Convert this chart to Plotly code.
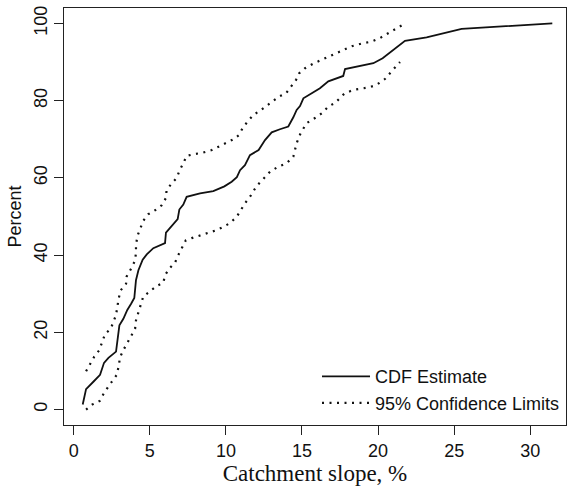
import plotly.graph_objects as go

# CDF estimate (catchment slope %, percent)
cdf_x = [0.59, 0.81, 1.29, 1.73, 1.99, 2.28, 2.78, 3.0, 3.26, 3.52, 3.77, 3.98, 4.09, 4.25, 4.53, 4.8,
         5.23, 6.0, 6.06, 6.44, 6.83, 6.94, 7.2, 7.42, 8.3, 9.17, 9.9, 10.38, 10.72, 10.93, 11.25, 11.58,
         12.15, 12.57, 13.01, 13.55, 14.1, 14.43, 14.65, 14.87, 15.09, 15.64, 16.18, 16.73, 17.71, 17.83,
         18.81, 19.69, 20.3, 21.0, 21.77, 23.19, 24.18, 25.49, 31.45]
cdf_y = [1.3, 5.3, 7.2, 9.0, 12.1, 13.4, 15.0, 21.8, 23.5, 25.8, 27.4, 28.9, 33.5, 36.1, 38.8, 40.2,
         41.8, 43.1, 45.8, 47.5, 49.3, 51.8, 53.1, 55.1, 56.0, 56.6, 57.8, 59.0, 60.2, 62.0, 63.3, 65.9,
         67.2, 69.8, 71.8, 72.6, 73.3, 75.7, 77.6, 78.6, 80.6, 81.9, 83.2, 85.0, 86.4, 88.2,
         88.9, 89.7, 91.0, 93.2, 95.5, 96.4, 97.3, 98.6, 100.0]

# Upper 95% confidence limit
upper_x = [0.81, 1.07, 1.35, 1.68, 2.06, 2.43, 2.78, 2.96, 3.09, 3.44, 3.48, 3.77, 4.03, 4.09, 4.09, 4.18,
           4.4, 4.57, 4.9, 5.34, 5.78, 6.06, 6.1, 6.44, 6.77, 6.94, 7.2, 7.42, 7.97, 8.45, 9.07, 9.55,
           10.05, 10.49, 10.86, 11.1, 11.43, 11.8, 12.24, 12.68, 13.11, 13.51, 13.95, 14.26, 14.61, 14.82,
           15.2, 15.74, 16.29, 16.73, 17.17, 17.71, 18.27, 19.03, 19.57, 20.12, 20.67, 21.11, 21.55]
upper_y = [9.9, 11.8, 13.7, 15.4, 19.6, 20.9, 24.5, 28.9, 30.9, 32.6, 34.5, 36.5, 38.6, 40.6, 42.5, 44.9,
           46.9, 48.9, 50.6, 51.6, 52.9, 54.8, 56.8, 58.6, 60.0, 61.8, 63.8, 65.7, 66.2, 66.5, 67.2, 68.1,
           69.1, 70.0, 71.1, 72.9, 74.6, 76.3, 77.4, 78.6, 79.8, 81.1, 81.9, 83.5, 85.4, 87.1,
           88.4, 89.6, 90.6, 91.5, 92.3, 93.2, 94.1, 94.9, 95.3, 96.2, 97.5, 98.4, 99.5]

# Lower 95% confidence limit
lower_x = [0.81, 1.22, 1.73, 1.95, 2.23, 2.56, 2.83, 2.96, 3.04, 3.26, 3.52, 3.81, 4.03, 4.09, 4.25, 4.57,
           5.01, 5.41, 5.89, 6.0, 6.28, 6.66, 6.87, 7.1, 7.36, 7.75, 8.3, 8.84, 9.35, 9.83, 10.27, 10.71,
           10.97, 11.25, 11.58, 12.02, 12.5, 12.9, 13.44, 13.99, 14.43, 14.65, 14.91, 15.31, 15.85, 16.36,
           16.73, 17.17, 17.78, 18.37, 19.03, 19.47, 19.9, 20.45, 20.89, 21.44]
lower_y = [0.0, 1.3, 2.3, 4.0, 5.7, 7.5, 9.0, 11.4, 13.5, 15.4, 17.2, 19.2, 20.9, 23.1, 25.0, 29.3,
           30.6, 31.9, 32.9, 34.8, 36.5, 38.1, 40.0, 41.7, 43.8, 44.4, 45.1, 45.7, 46.4, 47.3, 48.3, 49.9,
           51.6, 53.4, 55.1, 57.9, 59.9, 61.6, 62.9, 63.8, 65.5, 69.0, 71.6, 74.2, 75.5, 76.9,
           78.5, 79.4, 81.8, 82.8, 83.2, 83.5, 84.1, 85.6, 87.6, 90.0]

x_ticks = [0, 5, 10, 15, 20, 25, 30]
y_ticks = [0, 20, 40, 60, 80, 100]

sans = "Liberation Sans, Arial, sans-serif"
serif = "Liberation Serif, Times New Roman, serif"
dot = "2px,5.5px"

fig = go.Figure()
fig.add_trace(go.Scatter(x=cdf_x, y=cdf_y, mode="lines", name="CDF Estimate",
                         line=dict(color="#111111", width=1.8)))
fig.add_trace(go.Scatter(x=upper_x, y=upper_y, mode="lines", name="95% Confidence Limits",
                         line=dict(color="#111111", width=2.2, dash=dot)))
fig.add_trace(go.Scatter(x=lower_x, y=lower_y, mode="lines", name="95% Confidence Limits",
                         showlegend=False, line=dict(color="#111111", width=2.2, dash=dot)))

fig.update_layout(
    width=567, height=487,
    margin=dict(l=64, r=1, t=8, b=62),
    paper_bgcolor="white", plot_bgcolor="white",
    font=dict(family=sans, size=18, color="#111111"),
    legend=dict(x=0.504, xanchor="left", y=0.009, yanchor="bottom",
                bgcolor="rgba(0,0,0,0)", font=dict(size=18), tracegroupgap=0,
                itemwidth=48),
    showlegend=True,
)
fig.update_xaxes(range=[-0.64, 32.35], tickvals=x_ticks, ticks="outside", ticklen=9, tickwidth=1.2,
                 tickcolor="#222", showline=True, linecolor="#222", linewidth=1.3, mirror=True,
                 showgrid=False, zeroline=False,
                 title=dict(text="Catchment slope, %", font=dict(family=serif, size=23), standoff=2))
fig.update_yaxes(range=[-4, 104], tickvals=y_ticks, ticks="outside", ticklen=9, tickwidth=1.2,
                 tickcolor="#222", showline=True, linecolor="#222", linewidth=1.3, mirror=True,
                 showgrid=False, zeroline=False, tickangle=-90,
                 title=dict(text="Percent", font=dict(family=sans, size=18), standoff=4))

fig.write_html("out.html")
